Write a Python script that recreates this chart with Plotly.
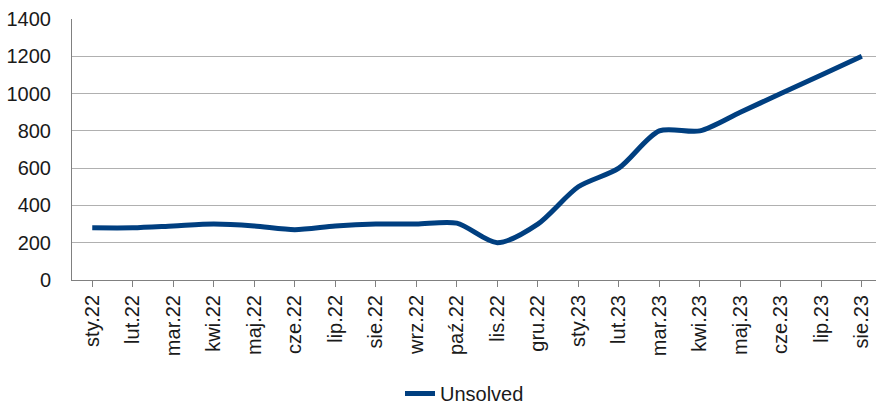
import plotly.graph_objects as go

categories = ["sty.22", "lut.22", "mar.22", "kwi.22", "maj.22", "cze.22", "lip.22",
              "sie.22", "wrz.22", "paź.22", "lis.22", "gru.22", "sty.23", "lut.23",
              "mar.23", "kwi.23", "maj.23", "cze.23", "lip.23", "sie.23"]
unsolved = [280, 280, 290, 300, 290, 270, 290, 300, 300, 305, 200, 300, 500, 600,
            800, 800, 900, 1000, 1100, 1200]
y_ticks = [0, 200, 400, 600, 800, 1000, 1200, 1400]

FONT = "Liberation Sans, Arial, sans-serif"

fig = go.Figure()
fig.add_trace(go.Scatter(
    x=list(range(len(categories))), y=unsolved, mode="lines", name="Unsolved",
    line=dict(color="#003f80", width=5, shape="spline", smoothing=0.8),
))

fig.update_layout(
    width=876, height=413,
    margin=dict(l=72, r=0, t=19, b=133),
    paper_bgcolor="white", plot_bgcolor="white",
    font=dict(family=FONT, size=20, color="#1a1a1a"),
    showlegend=True,
    legend=dict(orientation="h", xref="container", yref="container",
                x=0.4566, xanchor="left", y=0.0, yanchor="bottom",
                font=dict(size=20, color="#1a1a1a"), bgcolor="rgba(0,0,0,0)"),
    xaxis=dict(
        tickmode="array", tickvals=list(range(len(categories))), ticktext=categories,
        range=[-0.5, 19.35], tickangle=-90, automargin=False,
        showline=True, linecolor="#808080", linewidth=1,
        ticks="outside", tickson="boundaries", ticklen=6, tickcolor="#808080",
        showgrid=False, zeroline=False,
    ),
    yaxis=dict(
        range=[0, 1400], tickvals=y_ticks, automargin=False,
        showline=True, linecolor="#808080", linewidth=1,
        showgrid=True, gridcolor="#b0b0b0", gridwidth=1,
        ticks="", ticklabelstandoff=16, zeroline=False,
    ),
)

fig.write_html("out.html", config={"displayModeBar": False},
               post_script="document.body.style.margin='0';document.body.style.overflow='hidden';")
